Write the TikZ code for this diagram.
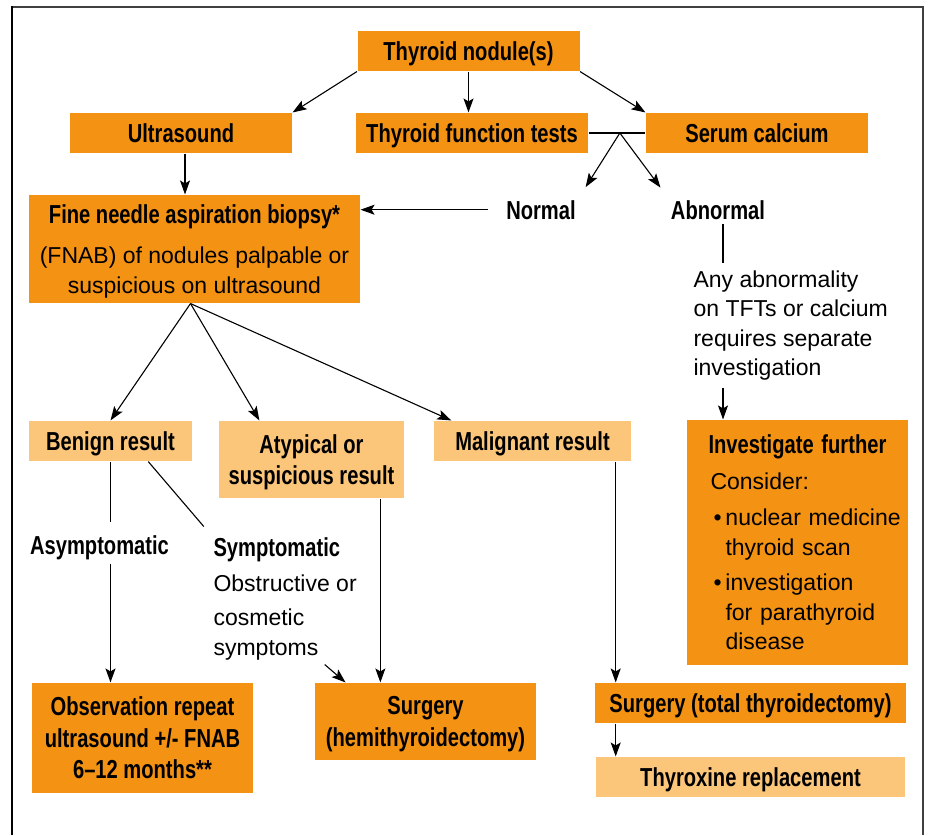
\documentclass[tikz,border=0pt]{standalone}
\usepackage{fontspec}
\setmainfont{Liberation Sans}
\newfontfamily\condbold{Liberation Sans}[FakeStretch=0.775]
\usetikzlibrary{arrows.meta,calc}
\definecolor{darkorange}{HTML}{F39213}
\definecolor{lightorange}{HTML}{FBC57A}
\newcommand{\headfont}{\condbold\bfseries\fontsize{26}{31.5}\selectfont}
\newcommand{\bodyfont}{\fontsize{23}{29.5}\selectfont}
\newcommand{\bul}{\makebox[12pt][l]{\textbullet}}
\tikzset{
  darkbox/.style={fill=darkorange, inner sep=0pt, align=center, font=\headfont,
    text depth=0pt, minimum width=#1, minimum height=40pt},
  lightbox/.style={darkbox=#1, fill=lightorange},
  headtext/.style={inner sep=4pt, font=\headfont},
  bodytext/.style={inner xsep=4pt, inner ysep=7pt, align=left, font=\bodyfont}
}

\begin{document}
\begin{tikzpicture}[x=1pt, y=-1pt, line width=1.1pt,
    >={Stealth[length=14pt, width=10pt, inset=3pt]}]
  \useasboundingbox (0,0) rectangle (928,835);
  % frame
  \draw[line width=2pt, black!75] (12,7) -- (923,7) -- (923,835);
  \draw[line width=2pt] (12,835) -- (12,6);

  % first steps
  \node[darkbox=222pt] (nod) at (468.5,51) {Thyroid nodule(s)};
  \node[darkbox=222pt] (us) at (181,133) {Ultrasound};
  \node[darkbox=232pt] (tft) at (472,133) {Thyroid function tests};
  \node[darkbox=222pt] (ca) at (757,133) {Serum calcium};
  \node[headtext, anchor=base] (norm) at (541,219) {Normal};
  \node[headtext, anchor=base] (abn) at (718,219) {Abnormal};
  \node[darkbox=331pt, minimum height=108pt, font=\bodyfont] (fnab) at (194.5,249)
    {{\headfont Fine needle aspiration biopsy*}\\[11pt]
     (FNAB) of nodules palpable or\\suspicious on ultrasound};
  \node[bodytext, anchor=north west] (note) at (689,263)
    {Any abnormality\\on TFTs or calcium\\requires separate\\investigation};

  % biopsy results
  \node[lightbox=163pt] (ben) at (110.5,441) {Benign result};
  \node[lightbox=185pt, minimum height=77pt] (aty) at (311.5,459.5)
    {Atypical or\\suspicious result};
  \node[lightbox=197pt] (mal) at (532.5,441) {Malignant result};
  \node[darkbox=221pt, minimum height=245pt, font=\bodyfont, align=left,
    text depth=, text width=210pt, inner xsep=5.5pt] (inv) at (797.5,542.5)
    {\hspace*{16pt}{\headfont Investigate further}\\[6pt]
     \hspace*{18pt}Consider:\\[7pt]
     \hspace*{21pt}\bul nuclear medicine\\
     \hspace*{33pt}thyroid scan\\[6pt]
     \hspace*{21pt}\bul investigation\\
     \hspace*{33pt}for parathyroid\\
     \hspace*{33pt}disease};
  \node[headtext, anchor=base] (asym) at (99.5,554) {Asymptomatic};
  \node[headtext, anchor=base west] (symp) at (209,556) {Symptomatic};
  \node[bodytext, inner ysep=4pt, anchor=north west] (sympnote) at (209,570)
    {Obstructive or\\[5pt]cosmetic\\symptoms};

  % treatment
  \node[darkbox=221pt, minimum height=110pt] (obs) at (142.5,738)
    {Observation repeat\\ultrasound +/- FNAB\\6–12 months**};
  \node[darkbox=221pt, minimum height=77pt] (hemi) at (425.5,721.5)
    {Surgery\\(hemithyroidectomy)};
  \node[darkbox=311pt] (tot) at (750.5,703) {Surgery (total thyroidectomy)};
  \node[lightbox=309pt] (thx) at (750.5,777) {Thyroxine replacement};

  % connectors
  \draw[->] (nod.south west) -- (us.north east);
  \draw[->] (nod.south) -- (nod.south |- tft.north);
  \draw[->] (nod.south east) -- (ca.north west);
  \coordinate (tftca) at ($(tft.east)!0.55!(ca.west)$);
  \draw (tft.east) -- (ca.west);
  \draw[->, shorten >=10pt] (tftca) -- (norm.north east);
  \draw[->, shorten >=10pt] (tftca) -- (abn.north west);
  \draw[->, shorten <=14pt] (norm.west) -- (norm.west -| fnab.east);
  \draw[->] ([xshift=4pt]us.south) -- ([xshift=4pt]us.south |- fnab.north);
  \draw ([xshift=5pt]abn.south) -- ([xshift=5pt]abn.south |- note.north);
  \draw[->] ([xshift=5pt]abn.south |- note.south) -- ([xshift=5pt]abn.south |- inv.north);

  \draw[->] ([xshift=-4pt]fnab.south) -- (ben.north);
  \draw[->] ([xshift=-4pt]fnab.south) -- ($(aty.north west)!0.22!(aty.north east)$);
  \draw[->] ([xshift=-4pt]fnab.south) -- ($(mal.north west)!0.09!(mal.north east)$);

  \coordinate (benout) at ($(ben.south west)!0.73!(ben.south east)$);
  \draw[shorten >=9pt] (ben.south) -- (ben.south |- asym.north);
  \draw[shorten >=8pt] (benout) -- (symp.north west);
  \draw[->] (ben.south |- asym.south) -- (ben.south |- obs.north);
  \draw[->] ($(sympnote.south west)!0.76!(sympnote.south east)$)
    -- ($(hemi.north west)!0.14!(hemi.north east)$);
  \coordinate (atyout) at ($(aty.south west)!0.87!(aty.south east)$);
  \draw[->] (atyout) -- (atyout |- hemi.north);
  \coordinate (malout) at ($(mal.south west)!0.92!(mal.south east)$);
  \draw[->] (malout) -- (malout |- tot.north);
  \draw[->] (malout |- tot.south) -- (malout |- thx.north);
\end{tikzpicture}
\end{document}
